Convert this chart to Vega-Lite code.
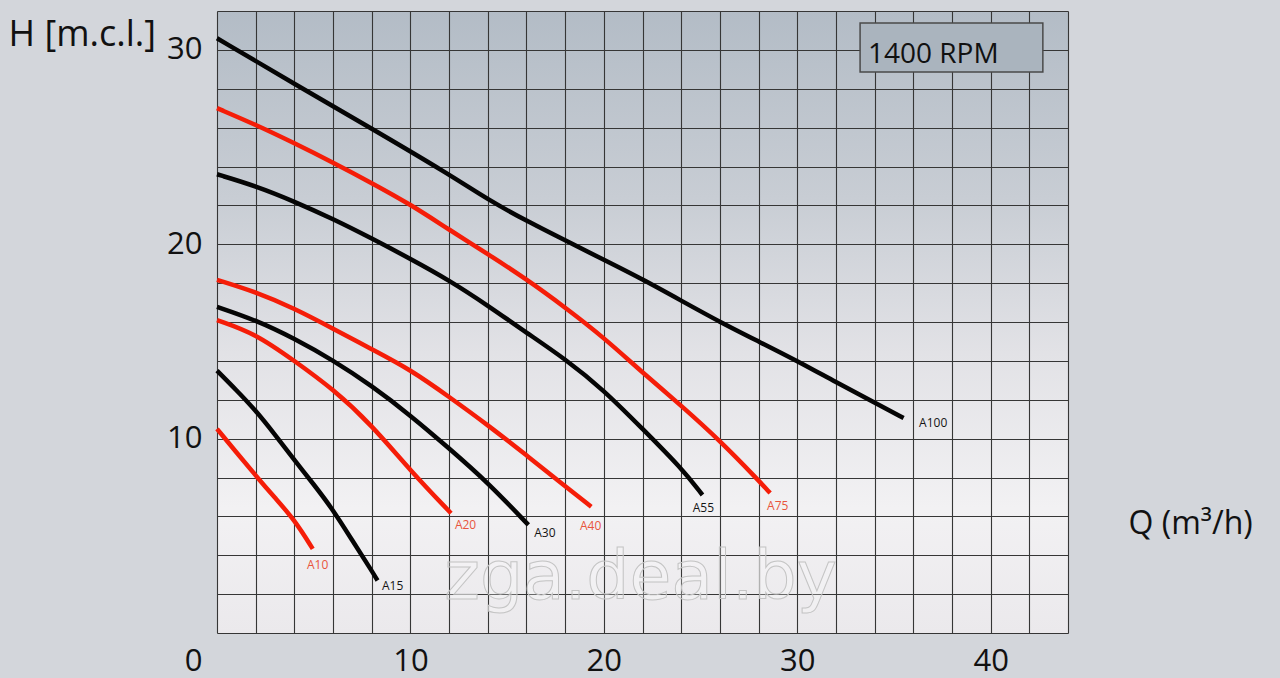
{
  "$schema": "https://vega.github.io/schema/vega-lite/v6.json",
  "width": 851,
  "height": 622,
  "autosize": {"type": "none"},
  "padding": {"left": 217, "top": 11, "right": 212, "bottom": 45},
  "background": "#d3d6db",
  "view": {
    "fill": {"gradient": "linear", "x1": 0, "y1": 0, "x2": 0, "y2": 1,
      "stops": [
        {"offset": 0, "color": "#b3bcc6"},
        {"offset": 0.3, "color": "#c8cdd4"},
        {"offset": 0.55, "color": "#e2e2e6"},
        {"offset": 0.8, "color": "#f2f1f3"},
        {"offset": 1, "color": "#ebe9ec"}
      ]},
    "stroke": null
  },
  "config": {
    "font": "Open Sans",
    "axis": {
      "gridColor": "#363636",
      "gridWidth": 1.1,
      "gridOpacity": 1,
      "domain": false,
      "ticks": false,
      "labelColor": "#111111",
      "titleColor": "#111111",
      "labelFont": "Open Sans",
      "titleFont": "Open Sans",
      "titleFontWeight": "normal"
    }
  },
  "datasets": {
    "curves": [
      {"pump": "A100", "q": 0, "h": 30.6}, {"pump": "A100", "q": 4, "h": 28.25}, {"pump": "A100", "q": 8, "h": 25.95}, {"pump": "A100", "q": 12, "h": 23.6}, {"pump": "A100", "q": 14, "h": 22.3}, {"pump": "A100", "q": 16, "h": 21.2}, {"pump": "A100", "q": 18, "h": 20.2}, {"pump": "A100", "q": 20, "h": 19.2}, {"pump": "A100", "q": 22, "h": 18.2}, {"pump": "A100", "q": 24, "h": 17.1}, {"pump": "A100", "q": 26, "h": 16.0}, {"pump": "A100", "q": 28, "h": 15.0}, {"pump": "A100", "q": 30, "h": 14.0}, {"pump": "A100", "q": 32, "h": 12.9}, {"pump": "A100", "q": 34, "h": 11.85}, {"pump": "A100", "q": 35.5, "h": 11.06},
      {"pump": "A75", "q": 0, "h": 27.0}, {"pump": "A75", "q": 2, "h": 26.15}, {"pump": "A75", "q": 4, "h": 25.2}, {"pump": "A75", "q": 6, "h": 24.2}, {"pump": "A75", "q": 8, "h": 23.15}, {"pump": "A75", "q": 10, "h": 22.05}, {"pump": "A75", "q": 12, "h": 20.75}, {"pump": "A75", "q": 14, "h": 19.5}, {"pump": "A75", "q": 16, "h": 18.2}, {"pump": "A75", "q": 18, "h": 16.75}, {"pump": "A75", "q": 20, "h": 15.2}, {"pump": "A75", "q": 22, "h": 13.4}, {"pump": "A75", "q": 24, "h": 11.7}, {"pump": "A75", "q": 26, "h": 9.9}, {"pump": "A75", "q": 28, "h": 7.85}, {"pump": "A75", "q": 28.6, "h": 7.2},
      {"pump": "A55", "q": 0, "h": 23.6}, {"pump": "A55", "q": 2, "h": 23.0}, {"pump": "A55", "q": 4, "h": 22.2}, {"pump": "A55", "q": 6, "h": 21.3}, {"pump": "A55", "q": 8, "h": 20.3}, {"pump": "A55", "q": 10, "h": 19.25}, {"pump": "A55", "q": 12, "h": 18.15}, {"pump": "A55", "q": 14, "h": 16.85}, {"pump": "A55", "q": 16, "h": 15.45}, {"pump": "A55", "q": 18, "h": 14.1}, {"pump": "A55", "q": 20, "h": 12.5}, {"pump": "A55", "q": 22, "h": 10.5}, {"pump": "A55", "q": 24, "h": 8.5}, {"pump": "A55", "q": 25.1, "h": 7.1},
      {"pump": "A40", "q": 0, "h": 18.17}, {"pump": "A40", "q": 2, "h": 17.55}, {"pump": "A40", "q": 4, "h": 16.7}, {"pump": "A40", "q": 6, "h": 15.66}, {"pump": "A40", "q": 8, "h": 14.6}, {"pump": "A40", "q": 10, "h": 13.55}, {"pump": "A40", "q": 12, "h": 12.15}, {"pump": "A40", "q": 14, "h": 10.7}, {"pump": "A40", "q": 16, "h": 9.15}, {"pump": "A40", "q": 18, "h": 7.55}, {"pump": "A40", "q": 19.35, "h": 6.5},
      {"pump": "A30", "q": 0, "h": 16.78}, {"pump": "A30", "q": 2, "h": 16.1}, {"pump": "A30", "q": 4, "h": 15.15}, {"pump": "A30", "q": 6, "h": 14.03}, {"pump": "A30", "q": 8, "h": 12.72}, {"pump": "A30", "q": 10, "h": 11.2}, {"pump": "A30", "q": 12, "h": 9.5}, {"pump": "A30", "q": 14, "h": 7.75}, {"pump": "A30", "q": 16.1, "h": 5.56},
      {"pump": "A20", "q": 0, "h": 16.1}, {"pump": "A20", "q": 2, "h": 15.4}, {"pump": "A20", "q": 4, "h": 14.0}, {"pump": "A20", "q": 6, "h": 12.55}, {"pump": "A20", "q": 8, "h": 10.7}, {"pump": "A20", "q": 10, "h": 8.35}, {"pump": "A20", "q": 12.1, "h": 6.16},
      {"pump": "A15", "q": 0, "h": 13.5}, {"pump": "A15", "q": 1, "h": 12.5}, {"pump": "A15", "q": 2, "h": 11.45}, {"pump": "A15", "q": 3, "h": 10.2}, {"pump": "A15", "q": 4, "h": 8.9}, {"pump": "A15", "q": 5, "h": 7.65}, {"pump": "A15", "q": 6, "h": 6.34}, {"pump": "A15", "q": 7, "h": 4.75}, {"pump": "A15", "q": 8, "h": 3.2}, {"pump": "A15", "q": 8.3, "h": 2.7},
      {"pump": "A10", "q": 0, "h": 10.5}, {"pump": "A10", "q": 1, "h": 9.3}, {"pump": "A10", "q": 2, "h": 8.1}, {"pump": "A10", "q": 3, "h": 6.95}, {"pump": "A10", "q": 4, "h": 5.83}, {"pump": "A10", "q": 4.95, "h": 4.33}
    ],
    "labels": [
      {"pump": "A10", "q": 4.65, "h": 3.5},
      {"pump": "A15", "q": 8.53, "h": 2.42},
      {"pump": "A20", "q": 12.3, "h": 5.56},
      {"pump": "A30", "q": 16.4, "h": 5.14},
      {"pump": "A40", "q": 18.77, "h": 5.5},
      {"pump": "A55", "q": 24.6, "h": 6.43},
      {"pump": "A75", "q": 28.44, "h": 6.53},
      {"pump": "A100", "q": 36.3, "h": 10.82}
    ],
    "box": [{"text": "1400 RPM", "q": 33.25, "q2": 42.7, "h": 31.38, "h2": 28.86, "tq": 33.66, "th": 29.32}],
    "mark": [{"text": "zga.deal.by", "q": 21.9, "h": 1.75}]
  },
  "resolve": {"scale": {"color": "independent"}},
  "layer": [
    {
      "data": {"name": "box"},
      "mark": {"type": "rect", "fill": "#aab4be", "stroke": "#4a4a4a", "strokeWidth": 1.5},
      "encoding": {
        "x": {"field": "q", "type": "quantitative",
          "scale": {"domain": [0, 44], "nice": false, "zero": false},
          "axis": {
            "values": [0, 2, 4, 6, 8, 10, 12, 14, 16, 18, 20, 22, 24, 26, 28, 30, 32, 34, 36, 38, 40, 42, 44],
            "tickCount": 100,
            "format": "d",
            "labelExpr": "datum.value % 10 === 0 ? datum.label : ''",
            "labelFontSize": 31,
            "labelPadding": 13,
            "labelOffset": {"condition": {"test": "datum.value === 0", "value": -24}, "value": 0},
            "labelFlush": false,
            "labelOverlap": false,
            "title": "Q (m³/h)",
            "titleFontSize": 32,
            "titleAlign": "left",
            "titleBaseline": "alphabetic",
            "titleAnchor": "start",
            "titleX": 911,
            "titleY": -100
          }},
        "x2": {"field": "q2"},
        "y": {"field": "h", "type": "quantitative",
          "scale": {"domain": [0, 32], "nice": false, "zero": false},
          "axis": {
            "values": [0, 2, 4, 6, 8, 10, 12, 14, 16, 18, 20, 22, 24, 26, 28, 30, 32],
            "tickCount": 100,
            "format": "d",
            "labelExpr": "datum.value % 10 === 0 && datum.value > 0 ? datum.label : ''",
            "labelFontSize": 31,
            "labelPadding": 15,
            "labelFlush": false,
            "labelOverlap": false,
            "title": "H [m.c.l.]",
            "titleFontSize": 36,
            "titleAngle": 0,
            "titleAlign": "left",
            "titleBaseline": "alphabetic",
            "titleAnchor": "start",
            "titleX": -209,
            "titleY": 34
          }},
        "y2": {"field": "h2"}
      }
    },
    {
      "data": {"name": "box"},
      "mark": {"type": "text", "align": "left", "baseline": "alphabetic", "fontSize": 28, "color": "#111111"},
      "encoding": {
        "x": {"field": "tq", "type": "quantitative"},
        "y": {"field": "th", "type": "quantitative"},
        "text": {"field": "text"}
      }
    },
    {
      "data": {"name": "mark"},
      "mark": {"type": "text", "align": "center", "baseline": "alphabetic", "fontSize": 68, "fill": "#ffffff", "fillOpacity": 0.25, "stroke": "#c4c4c4", "strokeWidth": 1, "font": "DejaVu Sans"},
      "encoding": {
        "x": {"field": "q", "type": "quantitative"},
        "y": {"field": "h", "type": "quantitative"},
        "text": {"field": "text"}
      }
    },
    {
      "data": {"name": "curves"},
      "mark": {"type": "line", "interpolate": "basis", "strokeWidth": 4.5, "strokeCap": "butt"},
      "encoding": {
        "x": {"field": "q", "type": "quantitative"},
        "y": {"field": "h", "type": "quantitative"},
        "color": {"field": "pump", "type": "nominal",
          "scale": {"domain": ["A10", "A15", "A20", "A30", "A40", "A55", "A75", "A100"],
                    "range": ["#f51d08", "#050505", "#f51d08", "#050505", "#f51d08", "#050505", "#f51d08", "#050505"]},
          "legend": null}
      }
    },
    {
      "data": {"name": "labels"},
      "mark": {"type": "text", "align": "left", "baseline": "middle", "fontSize": 12},
      "encoding": {
        "x": {"field": "q", "type": "quantitative"},
        "y": {"field": "h", "type": "quantitative"},
        "text": {"field": "pump"},
        "color": {"field": "pump", "type": "nominal",
          "scale": {"domain": ["A10", "A15", "A20", "A30", "A40", "A55", "A75", "A100"],
                    "range": ["#e8553c", "#151515", "#e8553c", "#151515", "#e8553c", "#151515", "#e8553c", "#151515"]},
          "legend": null}
      }
    }
  ]
}
